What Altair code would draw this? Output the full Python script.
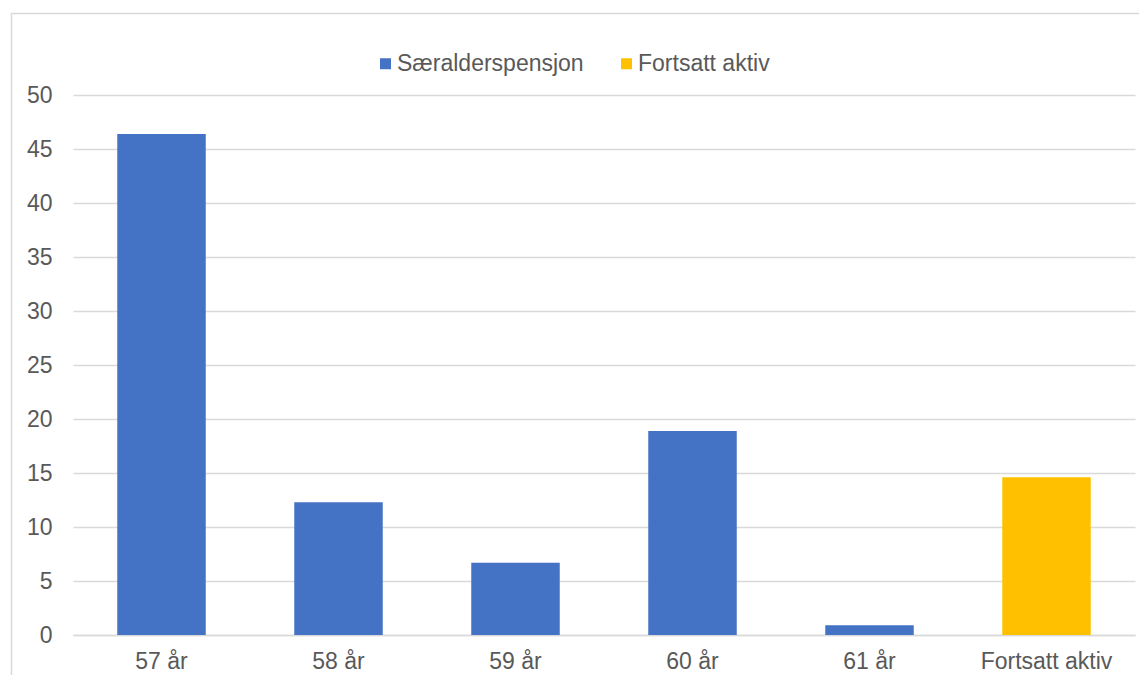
import altair as alt
import pandas as pd

categories = ["57 år", "58 år", "59 år", "60 år", "61 år", "Fortsatt aktiv"]
values = [46.4, 12.3, 6.7, 18.9, 0.9, 14.6]
series = ["Særalderspensjon"] * 5 + ["Fortsatt aktiv"]
series_order = ["Særalderspensjon", "Fortsatt aktiv"]
series_colors = ["#4472C4", "#FFC000"]
y_ticks = [0, 5, 10, 15, 20, 25, 30, 35, 40, 45, 50]

df = pd.DataFrame({"kategori": categories, "verdi": values, "serie": series})

FONT = "Liberation Sans"
TEXT = "#595959"
GRID = "#D9D9D9"
FS = 23

frame = alt.Chart(pd.DataFrame({"f": [0]})).mark_rect(
    fill=None, stroke=GRID, strokeWidth=1.5
).encode(
    x=alt.value(-61.5), x2=alt.value(1200),
    y=alt.value(-81.5), y2=alt.value(700)
)

bars = alt.Chart(df).mark_bar().encode(
    x=alt.X("kategori:N", sort=categories, title=None,
            scale=alt.Scale(paddingInner=0.5, paddingOuter=0.25),
            axis=alt.Axis(labelAngle=0, ticks=False, domain=True, domainColor=GRID,
                          domainWidth=1.5, labelPadding=15, labelFontSize=FS,
                          labelColor=TEXT, labelFont=FONT, labelLimit=0)),
    y=alt.Y("verdi:Q", title=None,
            scale=alt.Scale(domain=[0, 50], nice=False),
            axis=alt.Axis(values=y_ticks, ticks=False, domain=False, grid=True,
                          gridColor=GRID, gridWidth=1.5, labelPadding=21,
                          labelFontSize=FS, labelColor=TEXT, labelFont=FONT)),
    color=alt.Color("serie:N", title=None,
                    scale=alt.Scale(domain=series_order, range=series_colors),
                    legend=alt.Legend(orient="none", legendX=301, legendY=-43,
                                      direction="horizontal", symbolType="square",
                                      symbolSize=121, symbolStrokeWidth=0,
                                      labelFontSize=FS, labelColor=TEXT, labelFont=FONT,
                                      labelLimit=0, labelOffset=0, columnPadding=31))
)

chart = alt.layer(frame, bars).properties(
    width=1062, height=540,
    autosize=alt.AutoSizeParams(type="none"),
    padding={"left": 65, "top": 87, "right": 4, "bottom": 40},
    background="white"
).configure_view(stroke=None)

chart.save("out.html", embed_options={"renderer": "svg", "actions": False})
